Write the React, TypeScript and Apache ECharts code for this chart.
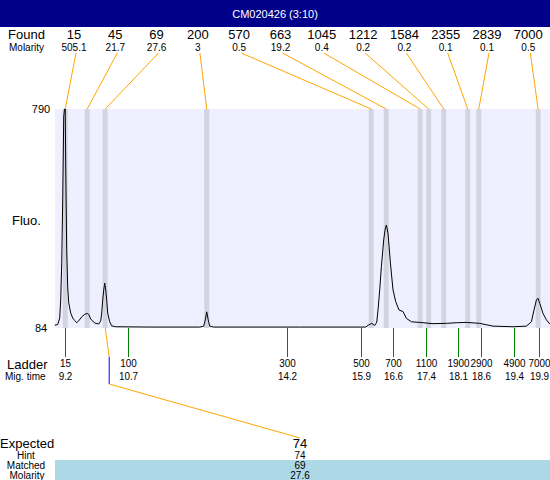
import React, { useEffect, useRef } from "react";
import * as echarts from "echarts";

const titleText = "CM020426 (3:10)";

const foundSizes = ["15", "45", "69", "200", "570", "663", "1045", "1212", "1584", "2355", "2839", "7000"];
const foundMolarity = ["505.1", "21.7", "27.6", "3", "0.5", "19.2", "0.4", "0.2", "0.2", "0.1", "0.1", "0.5"];
const foundTimes = [9.205, 9.7, 10.107, 12.399, 16.112, 16.45, 17.218, 17.41, 17.75, 18.29, 18.54, 19.88];

const ladderSizes = ["15", "100", "300", "500", "700", "1100", "1900", "2900", "4900", "7000"];
const ladderTimes = [9.2, 10.62, 14.21, 15.89, 16.6, 17.34, 18.06, 18.6, 19.34, 19.9];
const ladderTimeLabels = ["9.2", "10.7", "14.2", "15.9", "16.6", "17.4", "18.1", "18.6", "19.4", "19.9"];

const traceTime = [
  8.967, 9.035, 9.08, 9.103, 9.126, 9.148, 9.171, 9.189, 9.205, 9.216, 9.238, 9.261, 9.284, 9.329, 9.374,
  9.419, 9.464, 9.509, 9.577, 9.645, 9.701, 9.735, 9.78, 9.87, 9.961, 10.006, 10.028, 10.051, 10.074, 10.096,
  10.119, 10.141, 10.164, 10.209, 10.254, 10.344, 11.112, 12.241, 12.332, 12.366, 12.399, 12.433, 12.466,
  12.557, 14.498, 15.988, 16.056, 16.124, 16.191, 16.237, 16.266, 16.304, 16.342, 16.394, 16.428, 16.455,
  16.491, 16.545, 16.604, 16.665, 16.74, 16.83, 16.907, 17.02, 17.207, 17.507, 17.81, 18.042, 18.261, 18.561,
  18.861, 19.313, 19.615, 19.728, 19.787, 19.841, 19.877, 19.916, 19.99, 20.067, 20.142,
];
const traceFluo = [
  93, 95, 116, 174, 294, 497, 764, 790, 790, 603, 336, 216, 165, 132, 116,
  108, 101, 107, 120, 128, 131, 128, 113, 100, 97, 107, 132, 174, 207, 229,
  207, 174, 132, 104, 91, 88, 87, 87, 90, 110, 136, 110, 90,
  87, 87, 87, 94, 99, 92, 103, 142, 207, 282, 368, 403, 416,
  390, 294, 207, 169, 142, 137, 115, 104, 102, 98, 99, 101, 102, 99,
  90, 88, 90, 104, 142, 174, 180, 164, 131, 110, 97,
];

const fluoMin = 84;
const fluoMax = 790;
const timeMin = 8.974;
const timeMax = 20.148;

const expectedSize = "74";
const hintSize = "74";
const matchedSize = "69";
const matchedMolarity = "27.6";
const matchedIndex = 2;

const FONT = "Liberation Sans, Arial, sans-serif";

export default function App() {
  const ref = useRef<HTMLDivElement>(null);
  useEffect(() => {
    const el = ref.current!;
    const chart = echarts.init(el, null, { renderer: "svg" });
    const bandHalf = 0.056;
    chart.setOption({
      animation: false,
      grid: {
        left: 55,
        top: 109,
        width: 495,
        height: 219,
        show: true,
        backgroundColor: "#EFEFFF",
        borderWidth: 0,
      },
      xAxis: {
        type: "value",
        min: timeMin,
        max: timeMax,
        axisLine: { show: false },
        axisTick: { show: false },
        axisLabel: { show: false },
        splitLine: { show: false },
      },
      yAxis: {
        type: "value",
        min: fluoMin,
        max: fluoMax,
        axisLine: { show: false },
        axisTick: { show: false },
        splitLine: { show: false },
        axisLabel: {
          customValues: [fluoMin, fluoMax],
          color: "#000",
          fontSize: 11,
          fontFamily: FONT,
          align: "center",
          margin: 14,
        },
      },
      series: [
        {
          type: "line",
          data: [],
          z: 1,
          silent: true,
          markArea: {
            silent: true,
            itemStyle: { color: "#D4D4E0" },
            data: foundTimes.map((t) => [{ xAxis: t - bandHalf }, { xAxis: t + bandHalf }]),
          },
        },
        {
          type: "line",
          z: 3,
          silent: true,
          symbol: "none",
          showSymbol: false,
          lineStyle: { color: "#000", width: 1 },
          data: traceTime.map((t, i) => [t, traceFluo[i]]),
        },
      ],
    });

    const px = (t: number, v: number) => chart.convertToPixel({ gridIndex: 0 }, [t, v]) as number[];
    const txt = (
      x: number,
      y: number,
      text: string,
      size: number,
      align = "center",
      fill = "#000",
      scaleX = 1
    ) => ({
      type: "text",
      x,
      y,
      scaleX,
      silent: true,
      style: {
        text,
        fill,
        font: `${size}px ${FONT}`,
        lineHeight: size,
        textAlign: align,
        textVerticalAlign: "middle",
      },
    });
    const seg = (x1: number, y1: number, x2: number, y2: number, color: string) => ({
      type: "line",
      silent: true,
      shape: { x1, y1, x2, y2 },
      style: { stroke: color, lineWidth: 1 },
    });

    const g: any[] = [];
    g.push({ type: "rect", shape: { x: 0, y: 0, width: 550, height: 27 }, style: { fill: "#00008B" }, silent: true });
    g.push(txt(275, 13.5, titleText, 11, "center", "#fff"));

    g.push(txt(8, 34, "Found", 13, "left"));
    g.push(txt(9, 47, "Molarity", 10, "left"));
    const plotTop = px(timeMin, fluoMax)[1];
    const plotBottom = px(timeMin, fluoMin)[1];
    foundSizes.forEach((s, i) => {
      const lx = 74 + i * 41.3;
      const bx = px(foundTimes[i], fluoMax)[0];
      g.push(txt(lx, 34, s, 13));
      g.push(txt(lx, 47, foundMolarity[i], 10));
      g.push(seg(lx + 2, 53, bx, plotTop, "#FFA500"));
    });

    g.push(txt(12, 220, "Fluo.", 13, "left"));

    g.push(txt(7, 364.5, "Ladder", 13, "left"));
    g.push(txt(5, 376.5, "Mig. time", 10, "left"));
    ladderSizes.forEach((s, i) => {
      const x = Math.round(px(ladderTimes[i], fluoMin)[0]) + 0.5;
      g.push(seg(x, plotBottom, x, 357, "#008000"));
      g.push(txt(x, 363.5, s, 11, "center", "#000", 0.9));
      g.push(txt(x, 376, ladderTimeLabels[i], 11, "center", "#000", 0.9));
    });

    const mx = px(foundTimes[matchedIndex], fluoMin)[0];
    const expX = 300;
    g.push(seg(mx, plotBottom, mx + 4, 357, "#FFA500"));
    g.push(seg(mx + 4, 357, mx + 4, 384, "#0000FF"));
    g.push(seg(mx + 4, 384, expX, 438, "#FFA500"));

    g.push(txt(0, 443.5, "Expected", 13, "left"));
    g.push(txt(expX, 443.5, expectedSize, 13));
    g.push(txt(26, 455, "Hint", 10));
    g.push(txt(expX, 455, hintSize, 10));
    g.push({ type: "rect", shape: { x: 55, y: 460, width: 495, height: 20 }, style: { fill: "#ADD8E6" }, silent: true });
    g.push(txt(26, 465, "Matched", 10));
    g.push(txt(expX, 465, matchedSize, 10));
    g.push(txt(27, 475, "Molarity", 10));
    g.push(txt(expX, 475, matchedMolarity, 10));

    chart.setOption({ graphic: g });
    return () => chart.dispose();
  }, []);
  return <div ref={ref} style={{ position: "absolute", left: 0, top: 0, width: 550, height: 480, background: "#fff" }} />;
}
